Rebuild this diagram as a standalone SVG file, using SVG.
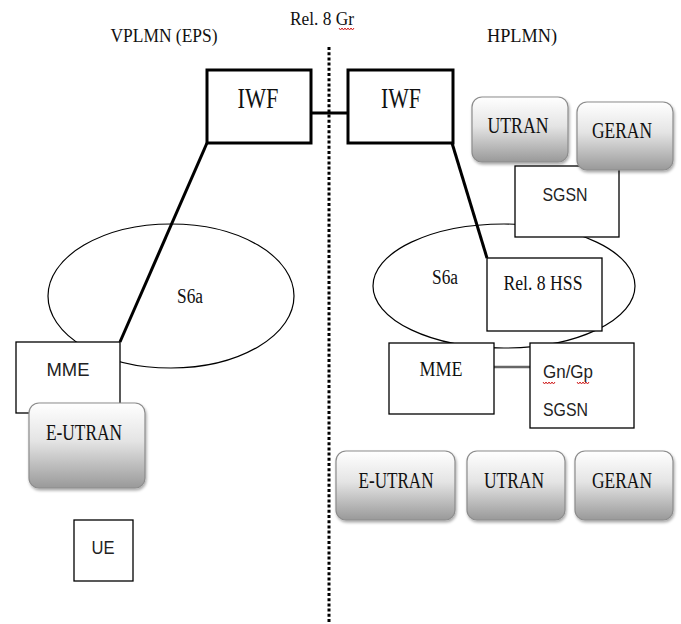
<svg xmlns="http://www.w3.org/2000/svg" width="681" height="624" viewBox="0 0 681 624">
<defs>
<linearGradient id="g" x1="0" y1="0" x2="0" y2="1">
<stop offset="0" stop-color="#ffffff"/>
<stop offset="0.45" stop-color="#e4e4e4"/>
<stop offset="1" stop-color="#999999"/>
</linearGradient>
<filter id="sh" x="-10%" y="-10%" width="125%" height="130%">
<feGaussianBlur in="SourceAlpha" stdDeviation="1.5"/>
<feOffset dx="1" dy="2" result="b"/>
<feComponentTransfer><feFuncA type="linear" slope="0.35"/></feComponentTransfer>
<feMerge><feMergeNode/><feMergeNode in="SourceGraphic"/></feMerge>
</filter>
</defs>
<style>
.box{fill:#fff;stroke:#000;stroke-width:1.3}
.tbox{fill:#fff;stroke:#000;stroke-width:3}
.ran{fill:url(#g);stroke:#8c8c8c;stroke-width:1.2;filter:url(#sh)}
.ell{fill:none;stroke:#000;stroke-width:1.2}
.ser{font-family:"Liberation Serif",serif;fill:#111;text-anchor:middle}
.san{font-family:"Liberation Sans",sans-serif;fill:#222;text-anchor:middle}
.thick{stroke:#000;stroke-width:3;fill:none}
.wav{fill:none;stroke:#d02020;stroke-width:1}
</style>
<rect width="681" height="624" fill="#fff"/>

<g id="labels">
<text class="ser" x="164" y="42" font-size="18" textLength="107" lengthAdjust="spacingAndGlyphs">VPLMN (EPS)</text>
<text class="ser" x="322" y="25" font-size="18" textLength="64" lengthAdjust="spacingAndGlyphs">Rel. 8 Gr</text>
<path class="wav" d="M339 28 l1.5 2 l1.5 -2 l1.5 2 l1.5 -2 l1.5 2 l1.5 -2 l1.5 2 l1.5 -2 l1.5 2 l1.5 -2"/>
<text class="ser" x="522" y="42" font-size="18" textLength="70" lengthAdjust="spacingAndGlyphs">HPLMN)</text>
</g>

<g id="ellipses">
<ellipse id="s6a-left" class="ell" cx="171" cy="296" rx="123" ry="72"/>
<ellipse id="s6a-right" class="ell" cx="504" cy="286" rx="131" ry="62"/>
<text class="ser" x="190" y="303" font-size="20" textLength="26" lengthAdjust="spacingAndGlyphs">S6a</text>
<text class="ser" x="445" y="284" font-size="20" textLength="26" lengthAdjust="spacingAndGlyphs">S6a</text>
</g>

<g id="divider">
<line x1="329" y1="47" x2="329" y2="624" stroke="#000" stroke-width="3" stroke-dasharray="3 2.2"/>
</g>

<g id="connectors">
<line class="thick" x1="311" y1="113" x2="348" y2="113"/>
<line class="thick" x1="207" y1="143" x2="120" y2="342"/>
<line class="thick" x1="452" y1="143" x2="487" y2="258"/>
<line x1="494" y1="367" x2="530" y2="367" stroke="#666" stroke-width="2.5"/>
</g>

<g id="iwf-v">
<rect class="tbox" x="207" y="70" width="104" height="73"/>
<text class="ser" x="258" y="108" font-size="30" textLength="41" lengthAdjust="spacingAndGlyphs">IWF</text>
</g>
<g id="iwf-h">
<rect class="tbox" x="348" y="70" width="105" height="73"/>
<text class="ser" x="401" y="108" font-size="30" textLength="40" lengthAdjust="spacingAndGlyphs">IWF</text>
</g>

<g id="sgsn-top">
<rect class="box" x="515" y="166" width="104" height="71"/>
<text class="san" x="565" y="201" font-size="19" textLength="45" lengthAdjust="spacingAndGlyphs">SGSN</text>
</g>
<g id="utran-top">
<rect class="ran" x="472" y="97" width="96" height="65" rx="10"/>
<text class="ser" x="518" y="133" font-size="24" textLength="61" lengthAdjust="spacingAndGlyphs">UTRAN</text>
</g>
<g id="geran-top">
<rect class="ran" x="577" y="102" width="96" height="68" rx="10"/>
<text class="ser" x="622" y="138" font-size="24" textLength="60" lengthAdjust="spacingAndGlyphs">GERAN</text>
</g>

<g id="hss">
<rect class="box" x="487" y="258" width="115" height="73"/>
<text class="ser" x="543" y="290" font-size="21" textLength="79" lengthAdjust="spacingAndGlyphs">Rel. 8 HSS</text>
</g>

<g id="mme-h">
<rect class="box" x="389" y="343" width="105" height="71"/>
<text class="ser" x="441" y="376" font-size="21" textLength="43" lengthAdjust="spacingAndGlyphs">MME</text>
</g>
<g id="gngp-sgsn">
<rect class="box" x="530" y="343" width="104" height="85"/>
<text class="san" x="543" y="378" font-size="19" style="text-anchor:start" textLength="50" lengthAdjust="spacingAndGlyphs">Gn/Gp</text>
<path class="wav" d="M543 382 l1.5 2 l1.5 -2 l1.5 2 l1.5 -2 l1.5 2 l1.5 -2 l1.5 2 l1.5 -2 M577 382 l1.5 2 l1.5 -2 l1.5 2 l1.5 -2 l1.5 2 l1.5 -2 l1.5 2 l1.5 -2"/>
<text class="san" x="543" y="416" font-size="19" style="text-anchor:start" textLength="45" lengthAdjust="spacingAndGlyphs">SGSN</text>
</g>

<g id="mme-v">
<rect class="box" x="16" y="342" width="104" height="71"/>
<text class="san" x="68" y="376" font-size="19" textLength="43" lengthAdjust="spacingAndGlyphs">MME</text>
</g>
<g id="eutran-v">
<rect class="ran" x="29" y="403" width="116" height="85" rx="10"/>
<text class="ser" x="84" y="440" font-size="24" textLength="76" lengthAdjust="spacingAndGlyphs">E-UTRAN</text>
</g>
<g id="ue">
<rect class="box" x="74" y="520" width="59" height="61"/>
<text class="san" x="103" y="554" font-size="19" textLength="23" lengthAdjust="spacingAndGlyphs">UE</text>
</g>

<g id="eutran-h">
<rect class="ran" x="336" y="451" width="119" height="69" rx="10"/>
<text class="ser" x="396" y="488" font-size="24" textLength="75" lengthAdjust="spacingAndGlyphs">E-UTRAN</text>
</g>
<g id="utran-h">
<rect class="ran" x="467" y="451" width="98" height="69" rx="10"/>
<text class="ser" x="514" y="488" font-size="24" textLength="60" lengthAdjust="spacingAndGlyphs">UTRAN</text>
</g>
<g id="geran-h">
<rect class="ran" x="575" y="451" width="98" height="69" rx="10"/>
<text class="ser" x="622" y="488" font-size="24" textLength="60" lengthAdjust="spacingAndGlyphs">GERAN</text>
</g>
</svg>
